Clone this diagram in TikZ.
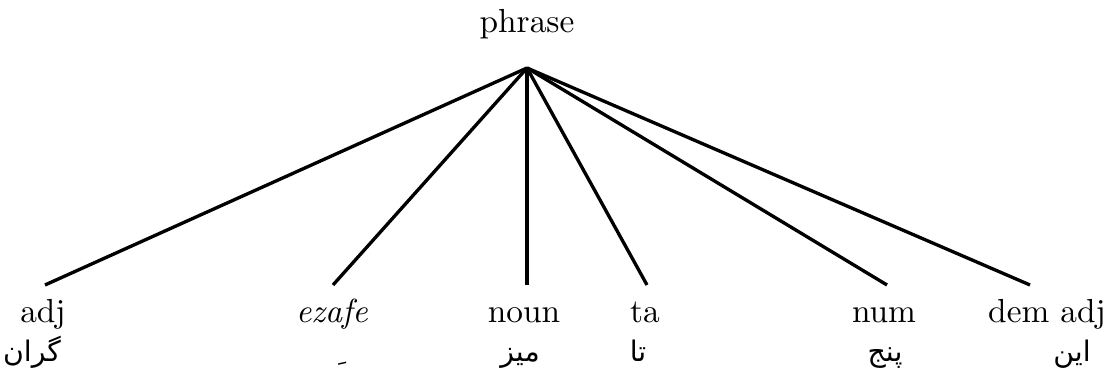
\documentclass[tikz,border=0pt]{standalone}
\usepackage{fontspec}
\newfontfamily\farsifont[Script=Arabic]{DejaVu Sans}
\TeXXeTstate=1
\usetikzlibrary{positioning}

\def\kasra{\char"0650\relax}

\begin{document}
\begin{tikzpicture}[
    x=0.3pt, y=0.3pt,
    branch/.style={draw, line width=1pt},
    cat/.style={anchor=base, inner sep=0pt},
    farsi/.style={anchor=base, inner sep=0pt, font=\farsifont\fontsize{8.5}{10}\selectfont}
]
\useasboundingbox (0,0) rectangle (1115,381);

\def\leafy{96}
\def\caty{58}
\def\farsiy{19}

\node[cat] (phrase) at (527,348) {phrase};
\coordinate (apex) at (527,313);

\foreach \nm/\ex/\cx/\lab/\fx/\fa in {
    adj/45/43/adj/32/گران,
    ezafe/333/332/\textit{ezafe}/335/\kasra,
    noun/527/524/noun/520/میز,
    ta/647/645/ta/638/تا,
    num/887/884/num/885/پنج,
    dem/1030/1047/dem adj/1072/این} {
  \coordinate (end-\nm) at (\ex,\leafy);
  \node[cat] (cat-\nm) at (\cx,\caty) {\lab};
  \node[farsi] (fa-\nm) at (\fx,\farsiy) {\beginR\fa\endR};
  \draw[branch] (apex) -- (end-\nm);
}

\end{tikzpicture}
\end{document}
